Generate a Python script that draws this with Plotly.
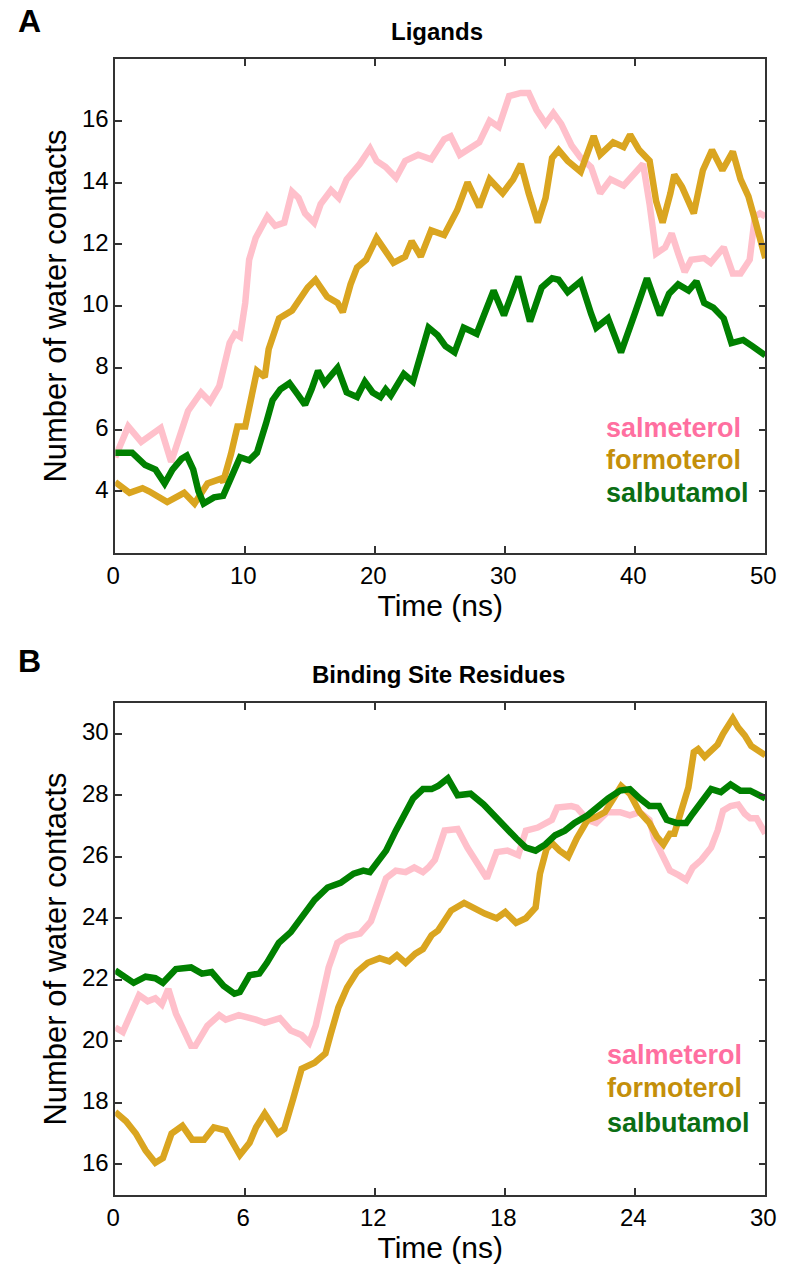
import plotly.graph_objects as go

# ---------------- Panel A: Ligands ----------------
lig_salm_t = [0, 1, 2, 3.5, 4.3, 5.6, 6.6, 7.3, 8.0, 8.8, 9.2, 9.6, 10.0, 10.3, 10.8, 11.7, 12.3, 13.0,
              13.6, 14.1, 14.6, 15.3, 15.8, 16.6, 17.2, 17.8, 18.8, 19.6, 20.1, 20.8, 21.6, 22.3, 23.3,
              24.3, 25.3, 25.8, 26.5, 28.0, 28.8, 29.5, 30.3, 31.2, 31.8, 32.4, 33.1, 33.7, 34.3, 35.1,
              35.8, 36.6, 37.3, 38.1, 39.1, 39.8, 40.6, 41.1, 41.6, 42.3, 42.8, 43.3, 43.8, 44.3, 45.3,
              45.8, 46.8, 47.5, 48.1, 48.8, 49.2, 49.6, 50]
lig_salm_v = [5.1, 6.1, 5.6, 6.05, 4.95, 6.6, 7.2, 6.9, 7.4, 8.8, 9.1, 9.0, 10.1, 11.5, 12.2, 12.9, 12.6, 12.7,
              13.7, 13.5, 13.0, 12.7, 13.3, 13.75, 13.5, 14.1, 14.6, 15.1, 14.7, 14.5, 14.15, 14.7, 14.9,
              14.75, 15.4, 15.5, 14.9, 15.3, 16.0, 15.8, 16.8, 16.9, 16.9, 16.35, 15.9, 16.25, 15.9, 15.2,
              14.8, 14.5, 13.65, 14.1, 13.9, 14.2, 14.6, 13.3, 11.7, 11.9, 12.35, 11.7, 11.1, 11.5, 11.55,
              11.4, 11.9, 11.05, 11.05, 11.5, 12.9, 13.0, 12.9]

lig_form_t = [0, 1.1, 2.1, 2.6, 4.0, 5.3, 6.1, 7.1, 8.1, 8.3, 8.9, 9.4, 10.0, 10.4, 10.9, 11.5, 11.8, 12.6,
              13.6, 14.8, 15.4, 16.3, 17.1, 17.5, 18.1, 18.6, 19.3, 20.1, 20.8, 21.4, 22.3, 22.8, 23.5,
              24.3, 25.3, 26.3, 27.1, 28.0, 28.8, 29.8, 30.6, 31.2, 31.8, 32.5, 33.1, 33.6, 34.1, 34.8,
              35.8, 36.8, 37.3, 38.3, 39.1, 39.6, 40.3, 41.1, 41.6, 42.1, 42.7, 43.0, 43.6, 44.2, 44.5,
              45.2, 45.9, 46.7, 47.5, 48.1, 48.7, 49.2, 50]
lig_form_v = [4.3, 3.95, 4.1, 4.0, 3.65, 3.95, 3.6, 4.25, 4.4, 4.3, 5.2, 6.1, 6.1, 6.95, 7.9, 7.7, 8.6, 9.6,
              9.85, 10.6, 10.85, 10.3, 10.1, 9.8, 10.7, 11.25, 11.5, 12.2, 11.8, 11.4, 11.6, 12.1, 11.6,
              12.45, 12.3, 13.1, 14.0, 13.2, 14.1, 13.65, 14.1, 14.6, 13.65, 12.7, 13.5, 14.8, 15.05, 14.7,
              14.35, 15.5, 14.9, 15.3, 15.15, 15.55, 15.05, 14.7, 13.4, 12.7, 13.65, 14.25, 13.85, 13.2, 13.0,
              14.4, 15.05, 14.4, 15.0, 14.1, 13.55, 12.8, 11.55]

lig_salb_t = [0, 1.3, 2.3, 3.1, 3.8, 4.4, 5.1, 5.5, 6.0, 6.4, 6.8, 7.6, 8.3, 8.9, 9.6, 10.3, 10.9, 11.6,
              12.1, 12.7, 13.4, 14.1, 14.6, 15.1, 15.6, 16.1, 17.1, 17.8, 18.6, 19.2, 19.8, 20.4, 20.8,
              21.2, 22.2, 22.9, 23.6, 24.1, 24.8, 25.4, 26.1, 26.8, 27.8, 28.6, 29.1, 29.9, 31.0, 31.9,
              32.8, 33.6, 34.1, 34.8, 35.8, 36.6, 37.0, 37.9, 38.9, 40.0, 40.9, 41.9, 42.6, 43.3, 44.1,
              44.7, 45.3, 46.0, 46.8, 47.4, 48.3, 49.0, 50]
lig_salb_v = [5.25, 5.25, 4.85, 4.7, 4.25, 4.7, 5.05, 5.15, 4.7, 4.0, 3.6, 3.8, 3.85, 4.45, 5.1, 5.0, 5.25, 6.2,
              6.95, 7.3, 7.5, 7.1, 6.8, 7.3, 7.9, 7.5, 8.0, 7.2, 7.05, 7.55, 7.2, 7.05, 7.3,
              7.1, 7.8, 7.55, 8.5, 9.3, 9.05, 8.7, 8.5, 9.3, 9.1, 9.95, 10.5, 9.7, 10.95, 9.5,
              10.6, 10.9, 10.85, 10.45, 10.8, 9.75, 9.3, 9.6, 8.5, 9.8, 10.9, 9.7, 10.4, 10.7, 10.5,
              10.8, 10.1, 9.95, 9.6, 8.8, 8.9, 8.7, 8.4]

# ---------------- Panel B: Binding Site Residues ----------------
bs_salm_t = [0, 0.35, 1.1, 1.5, 1.85, 2.15, 2.45, 2.8, 3.5, 3.7, 4.25, 4.8, 5.1, 5.7, 6.5, 6.9, 7.6, 8.1,
             8.6, 8.95, 9.25, 9.6, 9.85, 10.25, 10.7, 11.3, 11.8, 12.1, 12.5, 12.95, 13.4, 13.8, 14.2,
             14.45, 14.75, 15.2, 15.8, 16.25, 16.7, 17.15, 17.6, 18.1, 18.6, 18.95, 19.5, 20.15, 20.4,
             21.05, 21.3, 21.8, 22.2, 22.7, 23.3, 23.75, 24.2, 24.65, 24.9, 25.3, 25.6, 26.0, 26.35,
             26.65, 27.05, 27.5, 27.8, 28.05, 28.4, 28.75, 29.05, 29.3, 29.6, 30]
bs_salm_v = [20.45, 20.3, 21.5, 21.3, 21.4, 21.2, 21.7, 20.9, 19.85, 19.85, 20.5, 20.85, 20.7, 20.85, 20.7,
             20.6, 20.75, 20.35, 20.2, 19.95, 20.5, 21.55, 22.4, 23.2, 23.4, 23.5, 23.9, 24.5, 25.3, 25.55,
             25.5, 25.65, 25.5, 25.65, 25.9, 26.85, 26.9, 26.3, 25.8, 25.3, 26.15, 26.2, 26.05, 26.85,
             26.95, 27.2, 27.6, 27.65, 27.6, 27.2, 27.1, 27.45, 27.45, 27.35, 27.45, 27.2, 26.55, 26.0,
             25.55, 25.4, 25.25, 25.65, 25.9, 26.3, 26.85, 27.5, 27.65, 27.7, 27.4, 27.25, 27.25, 26.75]

bs_form_t = [0, 0.5, 0.95, 1.4, 1.85, 2.2, 2.6, 3.1, 3.55, 4.1, 4.55, 5.1, 5.75, 6.2, 6.5, 6.9, 7.5, 7.8,
             8.2, 8.6, 9.2, 9.7, 9.95, 10.3, 10.7, 11.15, 11.65, 12.2, 12.65, 13.0, 13.4, 13.85, 14.2,
             14.6, 14.9, 15.5, 16.1, 16.7, 17.05, 17.6, 18.0, 18.5, 18.95, 19.4, 19.6, 19.9, 20.15, 20.5,
             20.9, 21.3, 21.8, 22.2, 22.6, 23.0, 23.35, 23.75, 24.2, 24.65, 25.0, 25.3, 25.6, 25.8, 26.1,
             26.45, 26.7, 26.9, 27.2, 27.5, 27.8, 28.05, 28.5, 28.75, 29.05, 29.35, 30]
bs_form_v = [17.7, 17.4, 17.0, 16.45, 16.05, 16.2, 17.0, 17.25, 16.8, 16.8, 17.2, 17.1, 16.3, 16.7, 17.2,
             17.65, 17.0, 17.15, 18.1, 19.1, 19.3, 19.6, 20.25, 21.1, 21.75, 22.25, 22.55, 22.7, 22.6, 22.8,
             22.55, 22.85, 23.0, 23.45, 23.6, 24.25, 24.5, 24.25, 24.15, 24.0, 24.2, 23.85, 24.0, 24.35,
             25.45, 26.25, 26.45, 26.2, 26.0, 26.6, 27.2, 27.3, 27.45, 27.9, 28.3, 28.05, 27.45, 27.1,
             26.65, 26.4, 26.75, 26.75, 27.5, 28.25, 29.4, 29.5, 29.25, 29.45, 29.65, 30.0, 30.5, 30.2,
             29.95, 29.6, 29.3]

bs_salb_t = [0, 0.5, 0.85, 1.4, 1.85, 2.2, 2.8, 3.5, 4.0, 4.45, 5.0, 5.5, 5.75, 6.2, 6.65, 7.0, 7.55, 8.1,
             8.75, 9.2, 9.8, 10.4, 11.0, 11.45, 11.75, 12.05, 12.5, 12.95, 13.4, 13.75, 14.2, 14.6, 14.9,
             15.35, 15.8, 16.4, 17.0, 17.45, 18.05, 18.5, 18.95, 19.4, 19.85, 20.3, 20.75, 21.2, 21.8,
             22.2, 22.75, 23.3, 23.75, 24.2, 24.65, 25.1, 25.45, 25.9, 26.35, 26.65, 27.05, 27.5, 27.95,
             28.4, 28.85, 29.3, 30]
bs_salb_v = [22.3, 22.05, 21.9, 22.1, 22.05, 21.9, 22.35, 22.4, 22.2, 22.25, 21.8, 21.55, 21.6, 22.15, 22.2,
             22.55, 23.2, 23.55, 24.2, 24.6, 25.0, 25.15, 25.45, 25.55, 25.5, 25.8, 26.2, 26.85, 27.4,
             27.9, 28.2, 28.2, 28.3, 28.55, 28.0, 28.05, 27.7, 27.35, 26.95, 26.6, 26.3, 26.2, 26.4,
             26.7, 26.85, 27.1, 27.35, 27.6, 27.9, 28.15, 28.2, 27.9, 27.65, 27.65, 27.2, 27.1, 27.1,
             27.4, 27.8, 28.2, 28.1, 28.35, 28.15, 28.15, 27.9]

names = ["salmeterol", "formoterol", "salbutamol"]
line_colors = ["#FFC0CB", "#DAA520", "#008000"]
text_colors = ["#FF6FA0", "#C48F0A", "#0B6E14"]

lig_x_ticks = [0, 10, 20, 30, 40, 50]
lig_y_ticks = [4, 6, 8, 10, 12, 14, 16]
bs_x_ticks = [0, 6, 12, 18, 24, 30]
bs_y_ticks = [16, 18, 20, 22, 24, 26, 28, 30]

FONT = "Liberation Sans, Arial, sans-serif"
W, H = 788, 1264

fig = go.Figure()
top_series = [(lig_salm_t, lig_salm_v), (lig_form_t, lig_form_v), (lig_salb_t, lig_salb_v)]
bot_series = [(bs_salm_t, bs_salm_v), (bs_form_t, bs_form_v), (bs_salb_t, bs_salb_v)]
for (t, v), n, c in zip(top_series, names, line_colors):
    fig.add_trace(go.Scatter(x=t, y=v, mode="lines", name=n, line=dict(color=c, width=6.5),
                             xaxis="x", yaxis="y", showlegend=False))
for (t, v), n, c in zip(bot_series, names, line_colors):
    fig.add_trace(go.Scatter(x=t, y=v, mode="lines", name=n, line=dict(color=c, width=6.5),
                             xaxis="x2", yaxis="y2", showlegend=False))

xdom = [109 / W, 776 / W]
top_dom = [(H - 553) / H, (H - 59) / H]
bot_dom = [(H - 1195) / H, (H - 703) / H]

axis_common = dict(showline=True, linecolor="#333333", linewidth=1.5, mirror="ticks",
                   ticks="inside", ticklen=7, tickwidth=1.5, tickcolor="#333333",
                   showgrid=False, zeroline=False, ticklabeloverflow="allow", ticklabelshift=-2,
                   tickfont=dict(family=FONT, size=24, color="black"))
xtitle_font = dict(family=FONT, size=30, color="black")
ytitle_font = dict(family=FONT, size=31, color="black")

fig.update_layout(
    autosize=True, paper_bgcolor="white", plot_bgcolor="white",
    margin=dict(l=0, r=0, t=0, b=0),
    xaxis=dict(domain=xdom, anchor="y", range=[0, 50], tickvals=lig_x_ticks,
               title=dict(text="Time (ns)", font=xtitle_font, standoff=2), **axis_common),
    yaxis=dict(domain=top_dom, anchor="x", range=[2, 18], tickvals=lig_y_ticks,
               title=dict(text="Number of water contacts", font=ytitle_font, standoff=6), **axis_common),
    xaxis2=dict(domain=xdom, anchor="y2", range=[0, 30], tickvals=bs_x_ticks,
                title=dict(text="Time (ns)", font=xtitle_font, standoff=2), **axis_common),
    yaxis2=dict(domain=bot_dom, anchor="x2", range=[15, 31], tickvals=bs_y_ticks,
                title=dict(text="Number of water contacts", font=ytitle_font, standoff=6), **axis_common),
)

annotations = [
    dict(text="<b>A</b>", x=7 / W, y=1 - 21 / H, xref="paper", yref="paper", xanchor="left",
         yanchor="middle", showarrow=False, font=dict(family=FONT, size=32, color="black")),
    dict(text="<b>B</b>", x=7 / W, y=1 - 661 / H, xref="paper", yref="paper", xanchor="left",
         yanchor="middle", showarrow=False, font=dict(family=FONT, size=32, color="black")),
    dict(text="<b>Ligands</b>", x=439 / W, y=1 - 31 / H, xref="paper", yref="paper", xanchor="center",
         yanchor="middle", showarrow=False, font=dict(family=FONT, size=24, color="black")),
    dict(text="<b>Binding Site Residues</b>", x=441 / W, y=1 - 674 / H, xref="paper", yref="paper",
         xanchor="center", yanchor="middle", showarrow=False, font=dict(family=FONT, size=24, color="black")),
]
top_leg_y = [6.04, 5.0, 3.94]
bot_leg_y = [19.55, 18.47, 17.34]
for n, c, yv in zip(names, text_colors, top_leg_y):
    annotations.append(dict(text=f"<b>{n}</b>", x=37.6, y=yv, xref="x", yref="y", xanchor="left",
                            yanchor="middle", showarrow=False, font=dict(family=FONT, size=27, color=c)))
for n, c, yv in zip(names, text_colors, bot_leg_y):
    annotations.append(dict(text=f"<b>{n}</b>", x=22.6, y=yv, xref="x2", yref="y2", xanchor="left",
                            yanchor="middle", showarrow=False, font=dict(family=FONT, size=27, color=c)))
fig.update_layout(annotations=annotations)

# The plot div is pinned at the page origin (so the default body margin cannot push it off the 788px page)
post = ("document.documentElement.style.margin='0';document.body.style.margin='0';"
        "document.documentElement.style.overflow='hidden';document.body.style.overflow='hidden';")
fig.write_html("out.html", config={"displayModeBar": False, "responsive": False},
               default_width="788px; position:absolute; left:0px; top:0px; overflow:hidden",
               default_height="1264px", post_script=post)
